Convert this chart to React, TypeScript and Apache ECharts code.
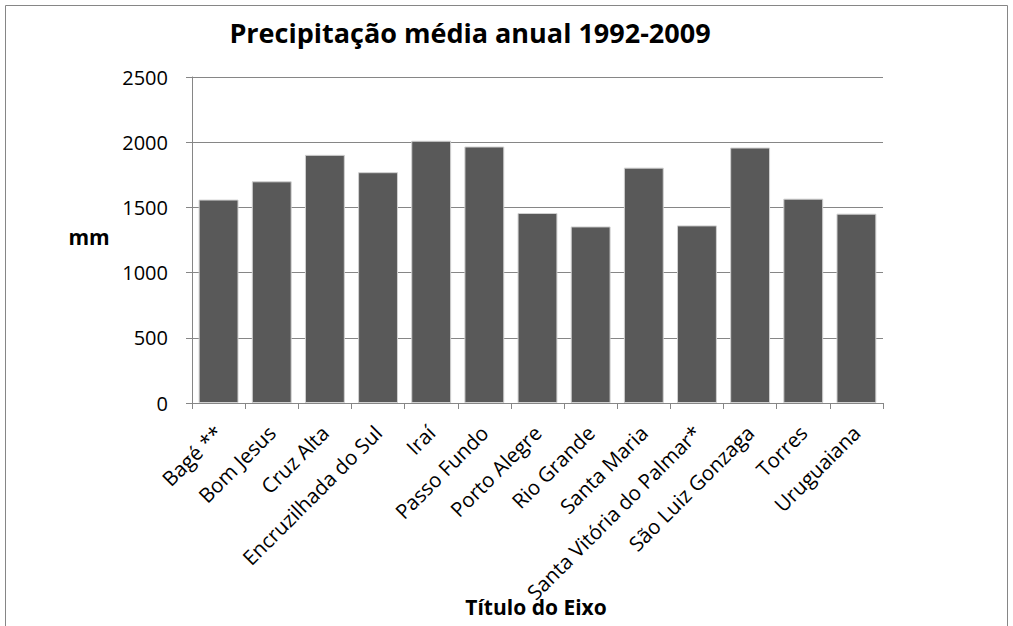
import React, { useEffect, useRef } from "react";
import * as echarts from "echarts";

const categories = [
  "Bagé **",
  "Bom Jesus",
  "Cruz Alta",
  "Encruzilhada do Sul",
  "Iraí",
  "Passo Fundo",
  "Porto Alegre",
  "Rio Grande",
  "Santa Maria",
  "Santa Vitória do Palmar*",
  "São Luiz Gonzaga",
  "Torres",
  "Uruguaiana",
];
const precipitation = [1560, 1700, 1903, 1770, 2011, 1967, 1457, 1354, 1805, 1362, 1959, 1567, 1452];
const titleText = "Precipitação média anual 1992-2009";
const yAxisTitle = "mm";
const xAxisTitle = "Título do Eixo";

const FONT = "'Open Sans', 'Noto Sans', sans-serif";
const GRAY = "#868686";

export default function App() {
  const ref = useRef<HTMLDivElement>(null);
  useEffect(() => {
    if (!ref.current) return;
    const chart = echarts.init(ref.current, undefined, { renderer: "svg" });
    chart.setOption({
      animation: false,
      backgroundColor: "#ffffff",
      title: {
        text: titleText,
        left: 465,
        top: 14,
        textAlign: "center",
        textStyle: { fontFamily: FONT, fontSize: 27, fontWeight: "bold", color: "#000" },
      },
      graphic: [
        {
          type: "rect",
          shape: { x: 5.5, y: 5.5, width: 1002, height: 700 },
          style: { fill: "none", stroke: GRAY, lineWidth: 1 },
          silent: true,
        },
        {
          type: "text",
          x: 89,
          y: 237,
          style: {
            text: yAxisTitle,
            fontFamily: FONT,
            fontSize: 21,
            fontWeight: "bold",
            fill: "#000",
            align: "center",
            verticalAlign: "middle",
          },
        },
        {
          type: "text",
          x: 536,
          y: 607,
          style: {
            text: xAxisTitle,
            fontFamily: FONT,
            fontSize: 21,
            fontWeight: "bold",
            fill: "#000",
            align: "center",
            verticalAlign: "middle",
          },
        },
      ],
      grid: { left: 192, right: 130, top: 77, bottom: 223, containLabel: false },
      xAxis: {
        type: "category",
        data: categories,
        axisLine: { show: true, lineStyle: { color: GRAY, width: 1 } },
        axisTick: { show: true, length: 6, lineStyle: { color: GRAY } },
        axisLabel: {
          rotate: 45,
          interval: 0,
          fontFamily: FONT,
          fontSize: 20.5,
          color: "#000",
          margin: 26,
        },
      },
      yAxis: {
        type: "value",
        min: 0,
        max: 2500,
        interval: 500,
        axisLine: { show: true, lineStyle: { color: GRAY, width: 1 } },
        axisTick: { show: true, length: 6, lineStyle: { color: GRAY } },
        splitLine: { show: true, lineStyle: { color: GRAY, width: 1 } },
        axisLabel: {
          fontFamily: FONT,
          fontSize: 20,
          color: "#000",
          margin: 24,
          formatter: (v: number) => String(v),
        },
      },
      series: [
        {
          type: "bar",
          data: precipitation,
          barCategoryGap: "25%",
          itemStyle: { color: "#595959", borderColor: "#d0d0d0", borderWidth: 1 },
        },
      ],
    });
    return () => chart.dispose();
  }, []);
  return (
    <div
      ref={ref}
      style={{ position: "fixed", left: 0, top: 0, width: 1013, height: 626 }}
    />
  );
}
